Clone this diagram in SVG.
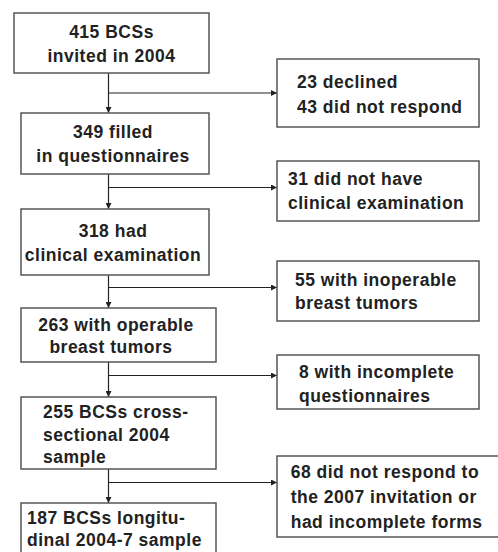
<svg xmlns="http://www.w3.org/2000/svg" width="498" height="552" viewBox="0 0 498 552">
<style>
.box{fill:#fff;stroke:#555;stroke-width:1.5}
.t{font-family:"Liberation Sans",Arial,sans-serif;font-weight:bold;font-size:17.5px;letter-spacing:0.5px;fill:#222}
.c{text-anchor:middle}
.ln{fill:none;stroke:#222;stroke-width:1.2}
</style>
<defs>
<marker id="ah" viewBox="0 0 10 10" refX="10" refY="5" markerWidth="6" markerHeight="6" markerUnits="userSpaceOnUse" orient="auto">
<path d="M0,0 L10,5 L0,10 z" fill="#222"/>
</marker>
</defs>
<rect width="498" height="552" fill="#fff"/>
<g id="connectors">
<line class="ln" x1="108.5" y1="73" x2="108.5" y2="113" marker-end="url(#ah)"/>
<line class="ln" x1="108.5" y1="93" x2="277" y2="93" marker-end="url(#ah)"/>
<line class="ln" x1="108.5" y1="174" x2="108.5" y2="209" marker-end="url(#ah)"/>
<line class="ln" x1="108.5" y1="187.5" x2="277" y2="187.5" marker-end="url(#ah)"/>
<line class="ln" x1="108.5" y1="275" x2="108.5" y2="308" marker-end="url(#ah)"/>
<line class="ln" x1="108.5" y1="287.5" x2="277" y2="287.5" marker-end="url(#ah)"/>
<line class="ln" x1="108.5" y1="362" x2="108.5" y2="397" marker-end="url(#ah)"/>
<line class="ln" x1="108.5" y1="375.5" x2="277" y2="375.5" marker-end="url(#ah)"/>
<line class="ln" x1="108.5" y1="469" x2="108.5" y2="503" marker-end="url(#ah)"/>
<line class="ln" x1="108.5" y1="482.5" x2="277" y2="482.5" marker-end="url(#ah)"/>
</g>
<g id="n1"><rect class="box" x="14" y="13" width="195" height="60"/>
<text class="t c" x="111.5" y="37.7">415 BCSs</text><text class="t c" x="111.5" y="61.7">invited in 2004</text></g>
<g id="n2"><rect class="box" x="21" y="113" width="188" height="61"/>
<text class="t c" x="113" y="137.7">349 filled</text><text class="t c" x="113" y="161.7">in questionnaires</text></g>
<g id="n3"><rect class="box" x="21" y="209" width="188" height="66"/>
<text class="t c" x="113" y="237">318 had</text><text class="t c" x="113" y="260.5">clinical examination</text></g>
<g id="n4"><rect class="box" x="21" y="308" width="195" height="54"/>
<text class="t c" x="116" y="330.7">263 with operable</text><text class="t c" x="111" y="353">breast tumors</text></g>
<g id="n5"><rect class="box" x="21" y="397" width="195" height="72"/>
<text class="t" x="43" y="418">255 BCSs cross-</text><text class="t" x="43" y="441">sectional 2004</text><text class="t" x="43" y="463">sample</text></g>
<g id="n6"><rect class="box" x="21" y="503" width="195" height="60"/>
<text class="t" x="27" y="523.5">187 BCSs longitu-</text><text class="t" x="27" y="546">dinal 2004-7 sample</text></g>
<g id="r1"><rect class="box" x="277" y="59" width="202" height="68"/>
<text class="t" x="297" y="88">23 declined</text><text class="t" x="297" y="112.5">43 did not respond</text></g>
<g id="r2"><rect class="box" x="277" y="161" width="202" height="60"/>
<text class="t" x="288" y="185">31 did not have</text><text class="t" x="288" y="209">clinical examination</text></g>
<g id="r3"><rect class="box" x="277" y="261" width="202" height="60"/>
<text class="t" x="295" y="286">55 with inoperable</text><text class="t" x="295" y="309">breast tumors</text></g>
<g id="r4"><rect class="box" x="277" y="355" width="202" height="54"/>
<text class="t" x="299" y="377.7">8 with incomplete</text><text class="t" x="299" y="401.7">questionnaires</text></g>
<g id="r5"><rect class="box" x="277" y="456" width="230" height="81"/>
<text class="t" x="290.7" y="478">68 did not respond to</text><text class="t" x="290.7" y="503">the 2007 invitation or</text><text class="t" x="290.7" y="527.7">had incomplete forms</text></g>
</svg>
